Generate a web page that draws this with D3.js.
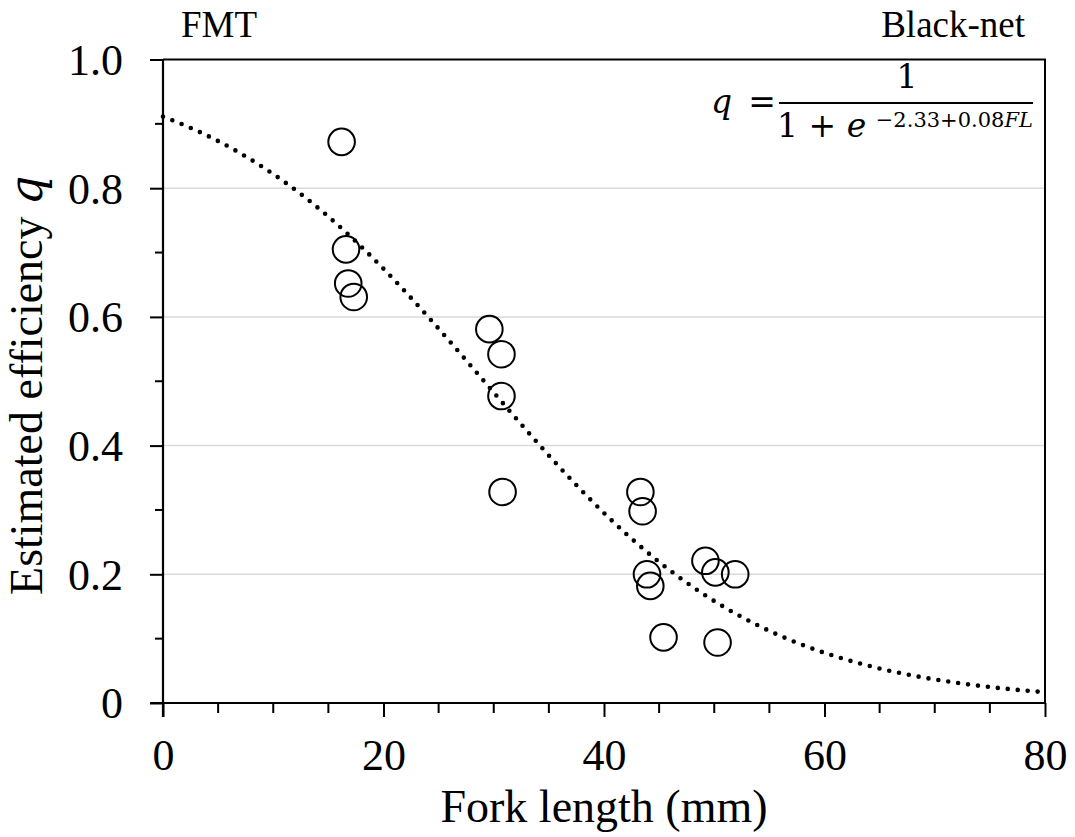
<!DOCTYPE html>
<html>
<head>
<meta charset="utf-8">
<script src="https://cdn.jsdelivr.net/npm/d3@7"></script>
<style>
  html, body { margin: 0; padding: 0; background: #fff; }
  svg { display: block; }
</style>
</head>
<body>
<svg id="chart" width="1075" height="837"></svg>
<script>
// Observed catch efficiency by fork length
const forkLength = [16.2, 16.6, 16.8, 17.3, 29.6, 30.7, 30.7, 30.8,
                    43.3, 43.5, 43.9, 44.2, 45.4, 49.2, 50.1, 51.9, 50.3];
const efficiency = [0.872, 0.705, 0.652, 0.631, 0.581, 0.542, 0.477, 0.328,
                    0.328, 0.298, 0.200, 0.182, 0.102, 0.221, 0.203, 0.200, 0.094];

// Fitted logistic model: q = 1 / (1 + e^(intercept + slope * FL))
const intercept = -2.33;
const slope = 0.08;

const xTicks = [0, 20, 40, 60, 80];
const xTickLabels = ["0", "20", "40", "60", "80"];
const yTicks = [0, 0.2, 0.4, 0.6, 0.8, 1.0];
const yTickLabels = ["0", "0.2", "0.4", "0.6", "0.8", "1.0"];
const gridValues = [0.2, 0.4, 0.6, 0.8];

const SERIF = "'Liberation Serif', 'Times New Roman', Tinos, 'DejaVu Serif', serif";
const MATH = "'DejaVu Serif', 'Liberation Serif', serif";

const plotL = 163, plotR = 1045, plotT = 59.5, plotB = 703;
const svg = d3.select("#chart");

const x = d3.scaleLinear().domain([0, 80]).range([plotL, plotR]);
const y = d3.scaleLinear().domain([0, 1]).range([plotB, plotT]);

// horizontal gridlines
svg.append("g").selectAll("line").data(gridValues).join("line")
  .attr("x1", plotL).attr("x2", plotR)
  .attr("y1", d => y(d)).attr("y2", d => y(d))
  .attr("stroke", "#d9d9d9").attr("stroke-width", 1.5);

// fitted curve (dotted)
const curveX = d3.range(0, 80.001, 0.25);
const model = fl => 1 / (1 + Math.exp(intercept + slope * fl));
svg.append("path")
  .datum(curveX)
  .attr("d", d3.line().x(d => x(d)).y(d => y(model(d))))
  .attr("fill", "none").attr("stroke", "#000")
  .attr("stroke-width", 4.6).attr("stroke-linecap", "round")
  .attr("stroke-dasharray", "0 10");

// observations
svg.append("g").selectAll("circle").data(forkLength).join("circle")
  .attr("cx", d => x(d)).attr("cy", (d, i) => y(efficiency[i]))
  .attr("r", 13.3)
  .attr("fill", "none").attr("stroke", "#000").attr("stroke-width", 2);

// plot frame: top and right edges
svg.append("path")
  .attr("d", `M${plotL},${plotT}H${plotR}V${plotB}`)
  .attr("fill", "none").attr("stroke", "#000").attr("stroke-width", 2);

// x axis
const xAxis = svg.append("g").attr("transform", `translate(0,${plotB})`)
  .call(d3.axisBottom(x).tickValues(xTicks).tickSize(14).tickPadding(22)
    .tickFormat((d, i) => xTickLabels[i]));
xAxis.select(".domain").attr("d", `M${plotL - 13},0H${plotR}`).attr("stroke-width", 2.2);
xAxis.selectAll(".tick line").attr("stroke-width", 2);
xAxis.selectAll(".tick text").style("font-family", SERIF).style("font-size", "44px")
  .attr("dy", "0.71em");
svg.append("g").selectAll("line").data(d3.range(5, 80, 5).filter(v => v % 20 !== 0)).join("line")
  .attr("x1", d => x(d)).attr("x2", d => x(d))
  .attr("y1", plotB).attr("y2", plotB + 10)
  .attr("stroke", "#000").attr("stroke-width", 2);

// y axis
const yAxis = svg.append("g").attr("transform", `translate(${plotL},0)`)
  .call(d3.axisLeft(y).tickValues(yTicks).tickSize(13).tickPadding(27)
    .tickFormat((d, i) => yTickLabels[i]));
yAxis.select(".domain").attr("d", `M0,${plotT}V${plotB + 14}`).attr("stroke-width", 2.2);
yAxis.selectAll(".tick line").attr("stroke-width", 2);
yAxis.selectAll(".tick text").style("font-family", SERIF).style("font-size", "44px")
  .attr("dy", "0.34em");
svg.append("g").selectAll("line").data(d3.range(0.1, 1, 0.2)).join("line")
  .attr("x1", plotL - 8).attr("x2", plotL)
  .attr("y1", d => y(d)).attr("y2", d => y(d))
  .attr("stroke", "#000").attr("stroke-width", 2);

// axis titles
svg.append("text")
  .attr("x", (plotL + plotR) / 2).attr("y", 822)
  .attr("text-anchor", "middle")
  .style("font-family", SERIF).style("font-size", "46px")
  .text("Fork length (mm)");

const yTitle = svg.append("text")
  .attr("transform", `translate(42,${(plotT + plotB) / 2 + 4}) rotate(-90)`)
  .attr("text-anchor", "middle")
  .style("font-family", SERIF).style("font-size", "46px");
yTitle.append("tspan").text("Estimated efficiency ");
yTitle.append("tspan").style("font-family", MATH).style("font-style", "italic").text("q");

// panel labels
svg.append("text").attr("x", 181).attr("y", 37)
  .style("font-family", SERIF).style("font-size", "37px").text("FMT");
svg.append("text").attr("x", 1025).attr("y", 37).attr("text-anchor", "end")
  .style("font-family", SERIF).style("font-size", "37px").text("Black-net");

// model equation
const eq = svg.append("g").style("font-family", MATH);
eq.append("text").attr("x", 711).attr("y", 113).style("font-size", "33px")
  .style("font-style", "italic").text("q");
eq.append("text").attr("x", 762).attr("y", 113).style("font-size", "33px")
  .attr("text-anchor", "middle").text("=");
eq.append("text").attr("x", 907).attr("y", 88).style("font-size", "33px")
  .attr("text-anchor", "middle").text("1");
eq.append("line").attr("x1", 779).attr("x2", 1033).attr("y1", 103).attr("y2", 103)
  .attr("stroke", "#000").attr("stroke-width", 1.8);
const den = eq.append("text").attr("x", 777).attr("y", 137).style("font-size", "33px");
den.append("tspan").text("1 + ");
den.append("tspan").style("font-style", "italic").text("e");
eq.append("text").attr("x", 1033).attr("y", 127).style("font-size", "21px")
  .attr("text-anchor", "end")
  .call(t => {
    t.append("tspan").text(`\u2212${Math.abs(intercept).toFixed(2)}+${slope.toFixed(2)}`);
    t.append("tspan").style("font-style", "italic").text("FL");
  });
</script>
</body>
</html>
